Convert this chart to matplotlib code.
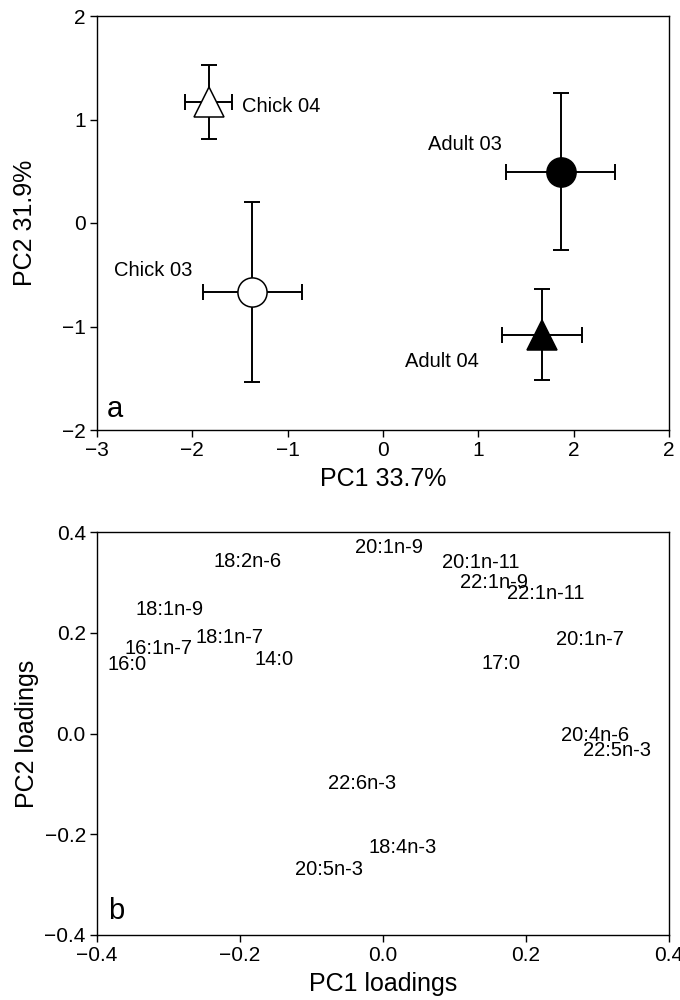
import matplotlib.pyplot as plt
import numpy as np

plt.rcParams['font.family'] = ['Liberation Sans', 'DejaVu Sans']

# panel a: group means with error ranges
groups = ['Chick 04', 'Adult 03', 'Chick 03', 'Adult 04']
pc1 = [-1.83, 1.87, -1.37, 1.67]
pc2 = [1.17, 0.49, -0.67, -1.08]
pc1_lo = [-2.08, 1.29, -1.89, 1.25]
pc1_hi = [-1.58, 2.43, -0.85, 2.09]
pc2_lo = [0.81, -0.26, -1.54, -1.52]
pc2_hi = [1.53, 1.26, 0.20, -0.64]
markers = ['^', 'o', 'o', '^']
faces = ['white', 'black', 'white', 'black']
label_x = [-1.07, 0.86, -2.41, 0.62]
label_y = [1.13, 0.76, -0.46, -1.34]

# panel b: fatty acid loadings
fatty_acids = ['20:1n-9', '18:2n-6', '20:1n-11', '22:1n-9', '22:1n-11',
               '18:1n-9', '18:1n-7', '16:1n-7', '16:0', '14:0', '20:1n-7',
               '17:0', '20:4n-6', '22:5n-3', '22:6n-3', '18:4n-3', '20:5n-3']
load1 = [0.009, -0.189, 0.137, 0.155, 0.227, -0.299, -0.214, -0.314, -0.358,
         -0.153, 0.289, 0.165, 0.297, 0.327, -0.029, 0.028, -0.076]
load2 = [0.370, 0.342, 0.340, 0.299, 0.277, 0.246, 0.191, 0.168, 0.136,
         0.147, 0.187, 0.139, -0.003, -0.034, -0.099, -0.226, -0.270]

fig = plt.figure(figsize=(6.8, 10), dpi=100)
axA = fig.add_axes([0.1426, 0.570, 0.8412, 0.414])
axB = fig.add_axes([0.1426, 0.065, 0.8412, 0.403])

for i in range(len(groups)):
    xerr = [[pc1[i] - pc1_lo[i]], [pc1_hi[i] - pc1[i]]]
    yerr = [[pc2[i] - pc2_lo[i]], [pc2_hi[i] - pc2[i]]]
    axA.errorbar(pc1[i], pc2[i], xerr=xerr, yerr=yerr, fmt='none',
                 ecolor='black', elinewidth=1.4, capsize=6, capthick=1.4, zorder=2)
    axA.plot(pc1[i], pc2[i], marker=markers[i], markersize=21 if markers[i] == 'o' else 22,
             markerfacecolor=faces[i], markeredgecolor='black', markeredgewidth=1.1,
             linestyle='none', zorder=3)
    axA.text(label_x[i], label_y[i], groups[i], fontsize=14.5, ha='center', va='center')

axA.set_xlim(-3, 3)
axA.set_ylim(-2, 2)
axA.set_xticks([-3, -2, -1, 0, 1, 2, 3])
axA.set_xticklabels(['\u22123', '\u22122', '\u22121', '0', '1', '2', '2'])
axA.set_yticks([-2, -1, 0, 1, 2])
axA.set_yticklabels(['\u22122', '\u22121', '0', '1', '2'])
axA.set_xlabel('PC1 33.7%', fontsize=18, labelpad=5)
axA.set_ylabel('PC2 31.9%', fontsize=18, labelpad=18)
axA.text(-2.9, -1.8, 'a', fontsize=21, ha='left', va='center')

for name, x, y in zip(fatty_acids, load1, load2):
    axB.text(x, y, name, fontsize=14.5, ha='center', va='center')

axB.set_xlim(-0.4, 0.4)
axB.set_ylim(-0.4, 0.4)
axB.set_xticks([-0.4, -0.2, 0.0, 0.2, 0.4])
axB.set_xticklabels(['\u22120.4', '\u22120.2', '0.0', '0.2', '0.4'])
axB.set_yticks([-0.4, -0.2, 0.0, 0.2, 0.4])
axB.set_yticklabels(['\u22120.4', '\u22120.2', '0.0', '0.2', '0.4'])
axB.set_xlabel('PC1 loadings', fontsize=18, labelpad=5)
axB.set_ylabel('PC2 loadings', fontsize=18, labelpad=4)
axB.text(-0.385, -0.352, 'b', fontsize=21, ha='left', va='center')

for ax in (axA, axB):
    ax.tick_params(axis='both', direction='out', length=5, width=1,
                   labelsize=15, top=False, right=False, pad=3)
    for s in ax.spines.values():
        s.set_linewidth(1)

fig.savefig('out.png', dpi=100)
